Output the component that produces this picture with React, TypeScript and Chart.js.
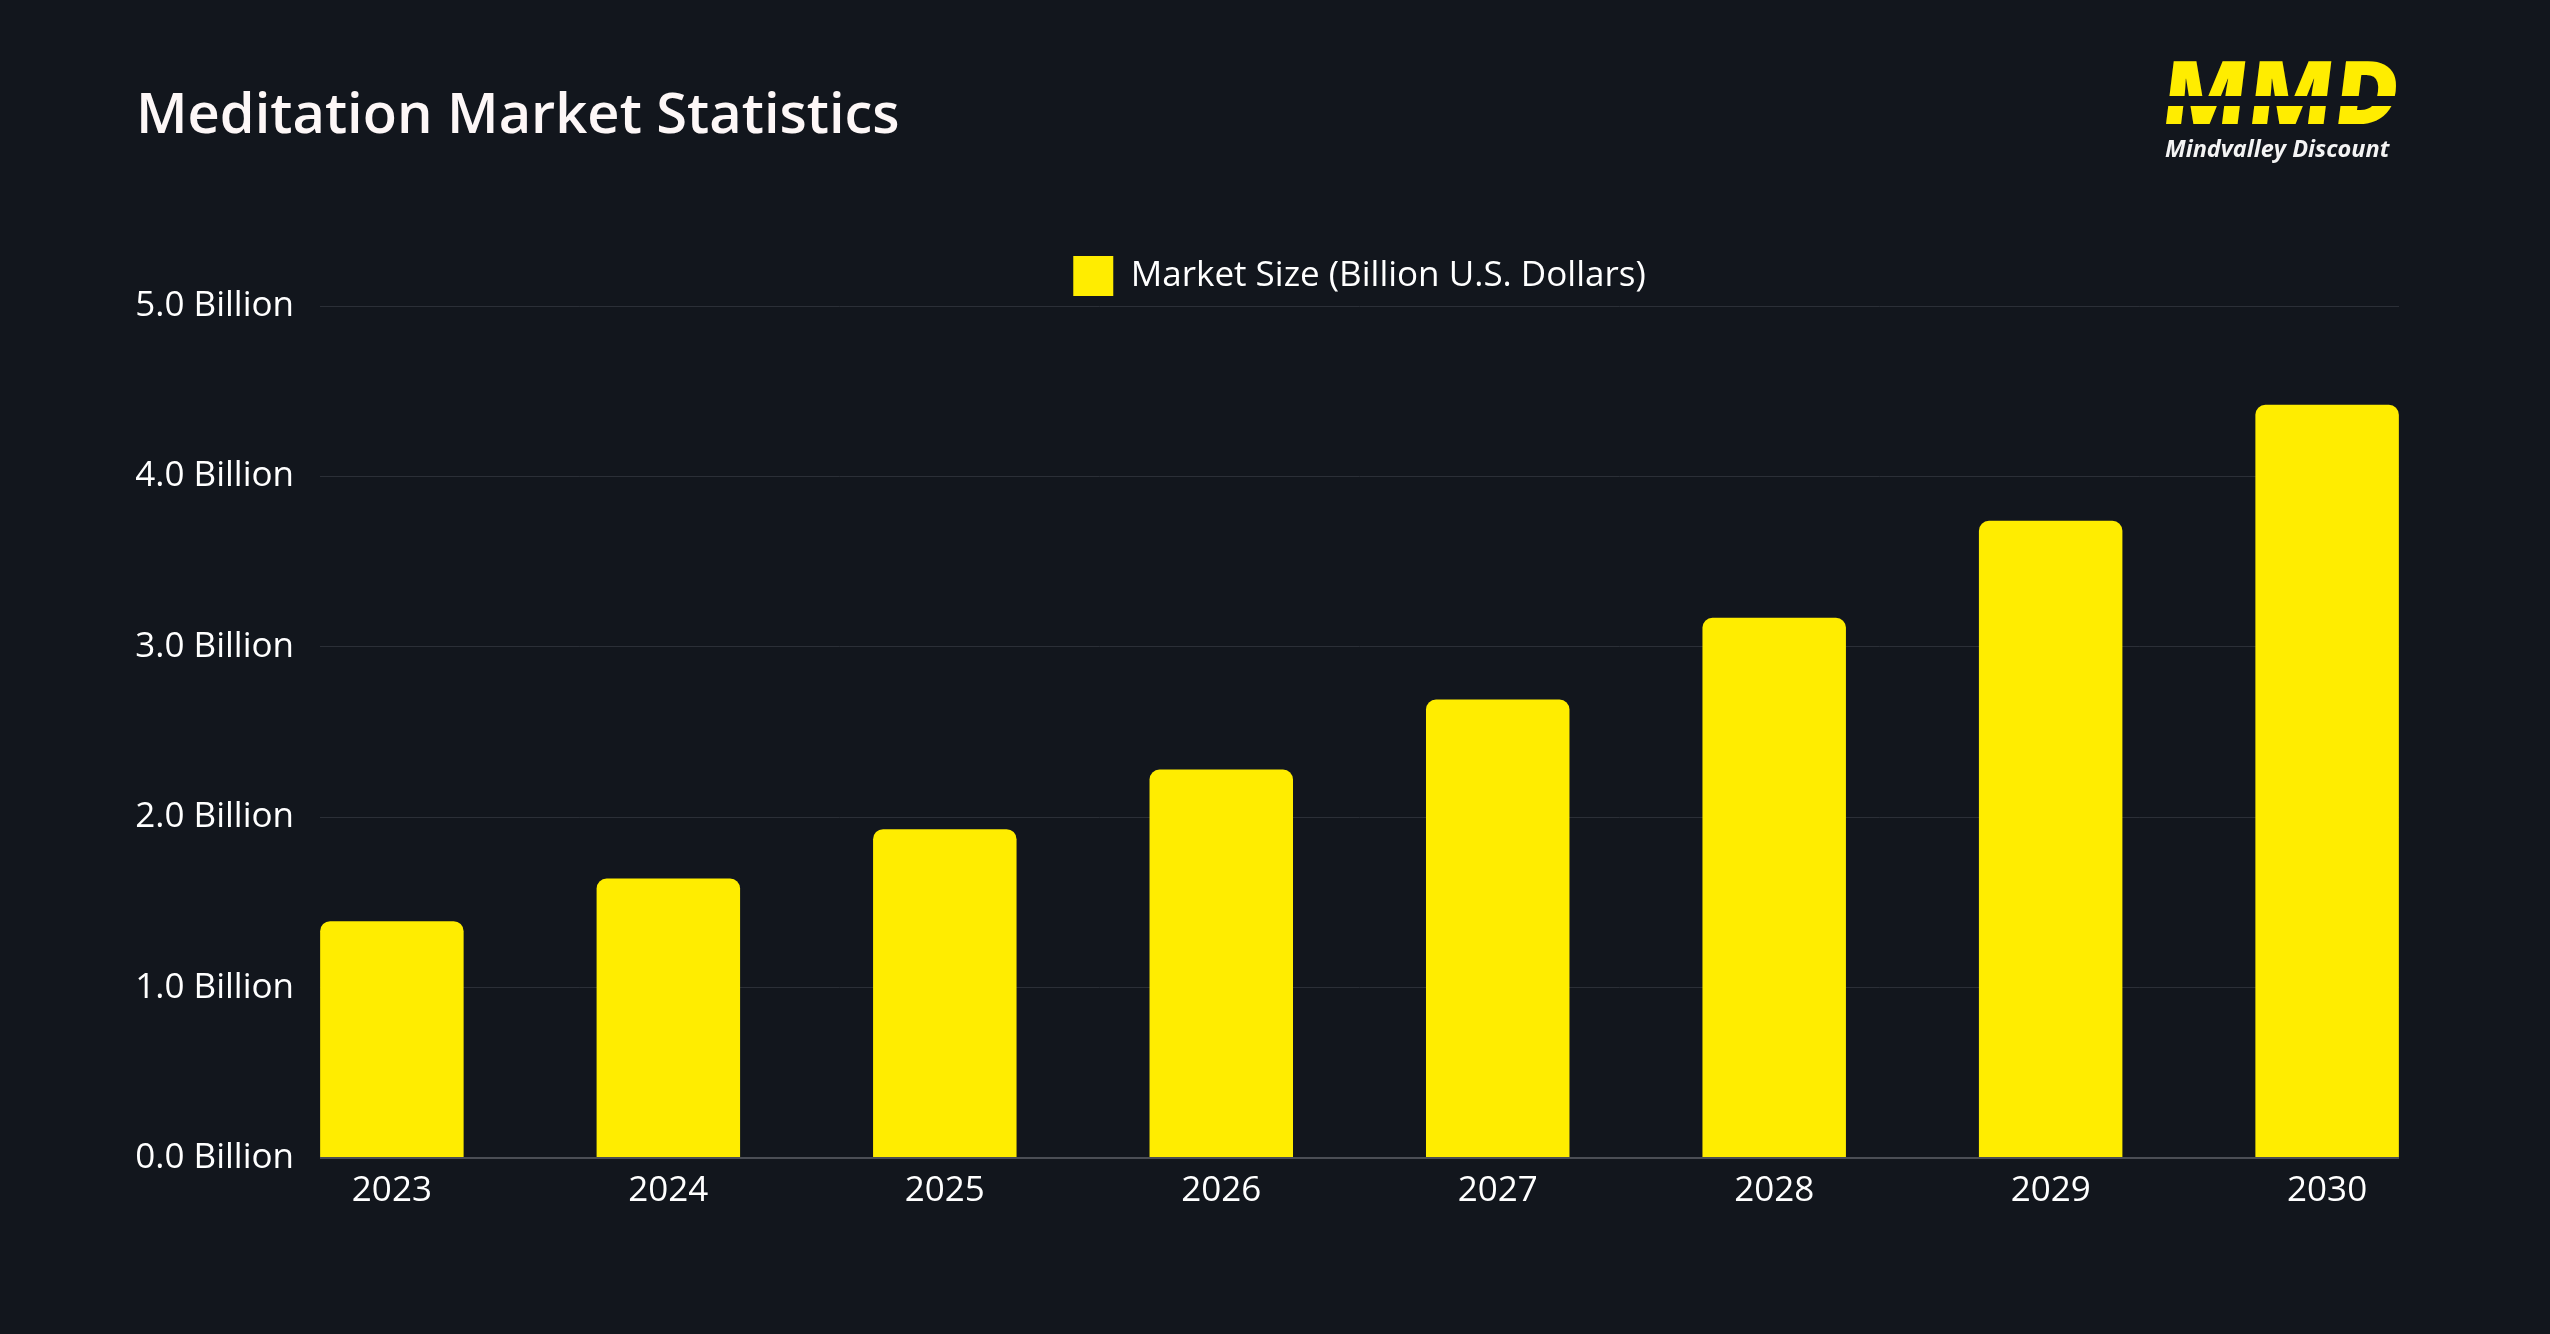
import React, { useEffect, useRef } from 'react';
import { Chart, registerables } from 'chart.js';

Chart.register(...registerables);

// ---- data ----
const years = [2023, 2024, 2025, 2026, 2027, 2028, 2029, 2030];
const marketSize = [1.39, 1.64, 1.93, 2.28, 2.69, 3.17, 3.74, 4.42];
const yTicks = [0, 1, 2, 3, 4, 5];
const seriesLabel = 'Market Size (Billion U.S. Dollars)';
const titleText = 'Meditation Market Statistics';
const brandMark = 'MMD';
const brandName = 'Mindvalley Discount';

// ---- style ----
const BG = '#12161d';
const YELLOW = '#ffed00';
const FONT = "'Open Sans', sans-serif";

export default function App() {
  const canvasRef = useRef<HTMLCanvasElement | null>(null);

  useEffect(() => {
    if (!canvasRef.current) return;
    Chart.defaults.font.family = FONT;
    const chart = new Chart(canvasRef.current, {
      type: 'bar',
      data: {
        labels: years as any,
        datasets: [
          {
            label: seriesLabel,
            data: marketSize,
            backgroundColor: YELLOW,
            borderWidth: 0,
            borderRadius: 10,
            barPercentage: 0.519,
            categoryPercentage: 1,
          },
        ],
      },
      options: {
        responsive: false,
        animation: false,
        layout: { padding: { left: 135, right: 151, top: 246, bottom: 110 } },
        plugins: {
          legend: {
            position: 'top',
            fullSize: false,
            labels: {
              color: '#ffffff',
              font: { size: 35, family: FONT },
              boxWidth: 40,
              boxHeight: 40,
              padding: 10,
            },
          },
          tooltip: { enabled: false },
        },
        scales: {
          x: {
            type: 'linear',
            offset: false,
            min: years[0] - 0.26,
            max: years[years.length - 1] + 0.26,
            grid: { display: false, drawTicks: false, offset: false },
            border: { display: false },
            afterBuildTicks: (axis: any) => {
              axis.ticks = years.map((v) => ({ value: v }));
            },
            ticks: {
              color: '#ffffff',
              font: { size: 35, family: FONT },
              padding: 12,
              autoSkip: false,
              maxRotation: 0,
              callback: (v: any) => String(v),
            },
          },
          y: {
            min: 0,
            max: 5,
            afterBuildTicks: (axis: any) => {
              axis.ticks = yTicks.map((v) => ({ value: v }));
            },
            afterFit: (scale: any) => {
              scale.width = 185;
            },
            grid: {
              drawTicks: false,
              color: (ctx: any) => (ctx.tick && ctx.tick.value === 0 ? '#4b4e55' : '#2b2f37'),
              lineWidth: (ctx: any) => (ctx.tick && ctx.tick.value === 0 ? 2 : 1),
            },
            border: { display: false },
            ticks: {
              color: '#ffffff',
              font: { size: 35, family: FONT },
              padding: 26,
              callback: (v: any) => `${Number(v).toFixed(1)} Billion`,
            },
          },
        },
      },
    } as any);
    return () => chart.destroy();
  }, []);

  return (
    <div
      style={{
        position: 'absolute',
        left: 0,
        top: 0,
        width: 2550,
        height: 1334,
        background: BG,
        overflow: 'hidden',
        fontFamily: FONT,
      }}
    >
      <canvas
        ref={canvasRef}
        width={2550}
        height={1334}
        style={{ position: 'absolute', left: 0, top: 0, display: 'block' }}
      />
      <div
        style={{
          position: 'absolute',
          left: 136,
          top: 83,
          fontSize: 56,
          lineHeight: 1,
          fontWeight: 600,
          color: '#fdf7f7',
          whiteSpace: 'nowrap',
        }}
      >
        {titleText}
      </div>
      <div
        style={{
          position: 'absolute',
          left: 2158,
          top: 46,
          fontSize: 88,
          lineHeight: 1,
          fontWeight: 800,
          letterSpacing: 1,
          transform: 'skewX(-7deg)',
          transformOrigin: 'left bottom',
          color: YELLOW,
          whiteSpace: 'nowrap',
        }}
      >
        {brandMark}
      </div>
      <div
        style={{
          position: 'absolute',
          left: 2150,
          top: 96,
          width: 280,
          height: 10,
          background: BG,
        }}
      />
      <div
        style={{
          position: 'absolute',
          left: 2165,
          top: 137,
          fontSize: 23.5,
          lineHeight: 1,
          fontWeight: 700,
          fontStyle: 'italic',
          color: '#f4f4f4',
          whiteSpace: 'nowrap',
        }}
      >
        {brandName}
      </div>
    </div>
  );
}
